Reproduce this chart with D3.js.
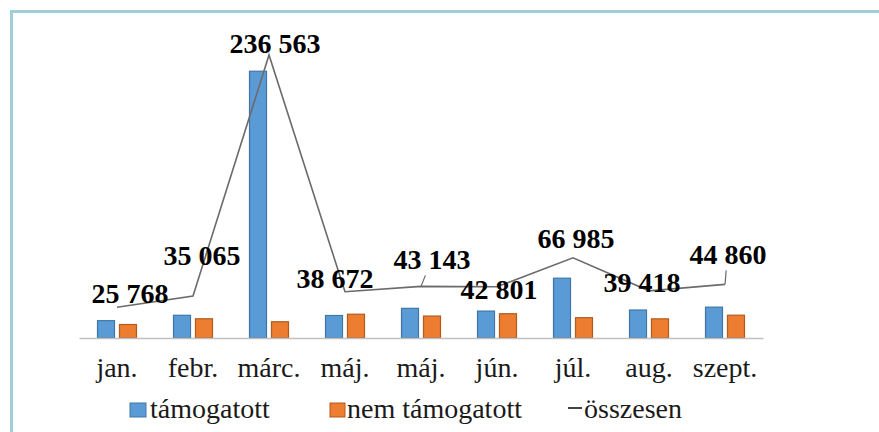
<!DOCTYPE html>
<html>
<head>
<meta charset="utf-8">
<script src="https://cdn.jsdelivr.net/npm/d3@7"></script>
<style>
  body { margin: 0; background: #fff; }
</style>
</head>
<body>
<div id="chart"></div>
<script>
// havi adatok
let months = ['jan.', 'febr.', 'márc.', 'máj.', 'máj.', 'jún.', 'júl.', 'aug.', 'szept.'];
let tamogatott = [14500, 19000, 223000, 18800, 24800, 22500, 50000, 23400, 25800];
let nemTamogatott = [11268, 16065, 13563, 19872, 18343, 20301, 16985, 16018, 19060];
let osszesen = [25768, 35065, 236563, 38672, 43143, 42801, 66985, 39418, 44860];
let seriesNames = ['támogatott', 'nem támogatott', 'összesen'];

// cimkek helye (kezzel igazitva, mint az eredetin)
let labelOffsets = [[13, -4], [9, -31], [6, -2], [-10, -4], [11, -17], [2, 12], [3, -10], [-7, 1], [3, -20]];
let leaders = [false, false, false, false, true, false, false, false, true];

// 28px folott mas betu jelenik meg, ezert 28 a max
var FONT = 'Liberation Serif';
var W = 879, H = 432;
var svg = d3.select('#chart').append('svg').attr('width', W).attr('height', H)
    .style('display', 'block');

// keret
svg.append('rect').attr('x', 10).attr('y', 10).attr('width', W).attr('height', 3).attr('fill', '#a0ced7');
svg.append('rect').attr('x', 10).attr('y', 10).attr('width', 3).attr('height', H).attr('fill', '#a0ced7');

var idx = d3.range(months.length);
var x = d3.scaleBand().domain(idx).range([79, 763]);
var x1 = d3.scaleBand().domain([0, 1]).range([0, 39]).paddingInner(0.227);
var y = d3.scaleLinear().domain([0, 236563]).range([338, 55]);

var colors = ['#5b9bd5', '#ed7d31'];
var strokes = ['#3f76a8', '#b35a1c'];

// oszlopok
[tamogatott, nemTamogatott].forEach(function(vals, s) {
    svg.append('g').selectAll('rect').data(vals).enter().append('rect')
        .attr('x', (d, i) => x(i) + x.bandwidth() / 2 - 19.5 + x1(s))
        .attr('y', d => y(d))
        .attr('width', x1.bandwidth())
        .attr('height', d => y(0) - y(d))
        .attr('fill', colors[s])
        .attr('stroke', strokes[s])
        .attr('stroke-width', 1.2);
});

// tengely
var axis = d3.axisBottom(x).tickSize(0).tickSizeOuter(0).tickPadding(19)
    .tickFormat(i => months[i]);
var gAxis = svg.append('g').attr('transform', 'translate(0,338)').call(axis)
    .attr('font-family', FONT).attr('font-size', 28);
gAxis.select('.domain').attr('stroke', '#c0c0c0').attr('stroke-width', 1.5);
gAxis.selectAll('text').attr('fill', '#1a1a1a');

// osszesen vonal
var line = d3.line().x((d, i) => x(i) + x.bandwidth() / 2).y(d => y(d));
svg.append('path').datum(osszesen).attr('d', line)
    .attr('fill', 'none').attr('stroke', '#6b6b6b').attr('stroke-width', 1.6);

// vezeto vonalak
osszesen.forEach(function(v, i) {
    if (!leaders[i]) return;
    var px = x(i) + x.bandwidth() / 2, py = y(v);
    svg.append('line')
        .attr('x1', px).attr('y1', py)
        .attr('x2', px + labelOffsets[i][0] * 0.4).attr('y2', py + labelOffsets[i][1] + 6)
        .attr('stroke', '#6b6b6b').attr('stroke-width', 1.2);
});

// ertekcimkek
var fmt = v => d3.format(',')(v).replace(/,/g, ' ');
svg.append('g').selectAll('text').data(osszesen).enter().append('text')
    .attr('x', (d, i) => x(i) + x.bandwidth() / 2 + labelOffsets[i][0])
    .attr('y', (d, i) => y(d) + labelOffsets[i][1])
    .attr('text-anchor', 'middle')
    .attr('font-family', FONT).attr('font-size', 28).attr('font-weight', 'bold')
    .attr('fill', '#000')
    .text(d => fmt(d));

// jelmagyarazat
var legend = svg.append('g').attr('fill', '#1a1a1a').attr('font-family', FONT).attr('font-size', 28);
legend.append('rect').attr('x', 130).attr('y', 403).attr('width', 16).attr('height', 14)
    .attr('fill', colors[0]).attr('stroke', strokes[0]);
legend.append('text').attr('x', 150).attr('y', 418).text(seriesNames[0]);
legend.append('rect').attr('x', 330).attr('y', 403).attr('width', 15).attr('height', 14)
    .attr('fill', colors[1]).attr('stroke', strokes[1]);
legend.append('text').attr('x', 347).attr('y', 418).text(seriesNames[1]);
legend.append('line').attr('x1', 568).attr('x2', 582).attr('y1', 408).attr('y2', 408)
    .attr('stroke', '#444').attr('stroke-width', 2);
legend.append('text').attr('x', 584).attr('y', 418).text(seriesNames[2]);
</script>
</body>
</html>
